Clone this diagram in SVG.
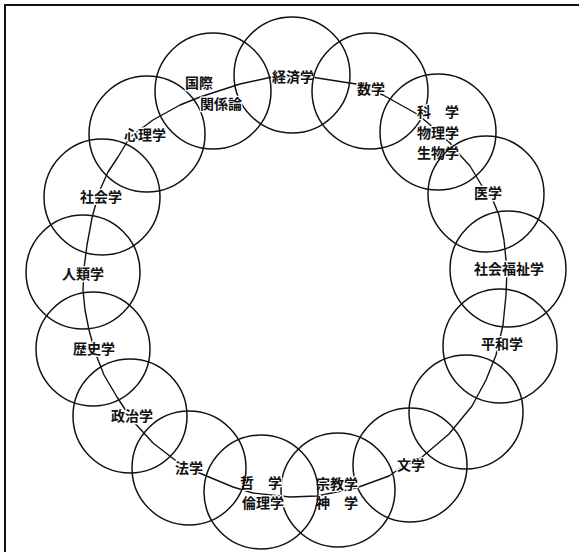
<svg xmlns="http://www.w3.org/2000/svg" width="579" height="552" viewBox="0 0 579 552">
<style>
.c{fill:none;stroke:#111;stroke-width:1.5}
.t{font-family:"Noto Sans CJK JP","Noto Sans CJK SC",sans-serif;font-size:14px;font-weight:700;fill:#111;stroke:#fff;stroke-width:2.5;paint-order:stroke;stroke-linejoin:round}
.ln{fill:none;stroke:#111;stroke-width:1.4;stroke-linejoin:round}
</style>
<rect width="579" height="552" fill="#fff"/>
<path d="M5 579V5H579" fill="none" stroke="#111" stroke-width="2"/>
<g id="connectors">
<path class="ln" d="M272,77 L311,77 L356,84 L383,95 L417,114 L428,123 L450,143 L460,155 L470,166 L482,186 L492,198 L499,215 L504,240 L507,270 L506,295 L503,325 L496,355 L486,380 L472,406 L449,434 L422,457 L399,469 L389,476 L356,488 L317,496 L290,497 L253,493 L233,487 L197,472 L175,460 L153,443 L132,420 L117,397 L104,375 L95,352 L89,330 L85,310 L83,290 L84,268 L87,245 L92,218 L99,192 L108,172 L118,157 L130,137 L153,120 L180,105 L200,97 L240,84 Z"/>
</g>
<g id="n-keizai"><circle class="c" cx="292" cy="75" r="58"/><text class="t" x="272" y="82">経済学</text></g>
<g id="n-suugaku"><circle class="c" cx="370" cy="91" r="58"/><text class="t" x="357" y="94">数学</text></g>
<g id="n-kagaku"><circle class="c" cx="438" cy="132" r="58"/><text class="t" x="417" y="117">科　学</text><text class="t" x="417" y="138">物理学</text><text class="t" x="417" y="158">生物学</text></g>
<g id="n-igaku"><circle class="c" cx="486" cy="194" r="58"/><text class="t" x="474" y="198">医学</text></g>
<g id="n-fukushi"><circle class="c" cx="508" cy="269" r="58"/><text class="t" x="474" y="274">社会福祉学</text></g>
<g id="n-heiwa"><circle class="c" cx="500" cy="346" r="57"/><text class="t" x="481" y="349">平和学</text></g>
<g id="n-blank"><circle class="c" cx="466" cy="412" r="57"/></g>
<g id="n-bungaku"><circle class="c" cx="410" cy="465" r="57"/><text class="t" x="397" y="470">文学</text></g>
<g id="n-shuukyou"><circle class="c" cx="338" cy="490" r="57"/><text class="t" x="316" y="489">宗教学</text><text class="t" x="316" y="508">神　学</text></g>
<g id="n-tetsugaku"><circle class="c" cx="261" cy="492" r="57"/><text class="t" x="240" y="488">哲　学</text><text class="t" x="242" y="508">倫理学</text></g>
<g id="n-hougaku"><circle class="c" cx="189" cy="468" r="57"/><text class="t" x="175" y="473">法学</text></g>
<g id="n-seiji"><circle class="c" cx="130" cy="416" r="57"/><text class="t" x="111" y="421">政治学</text></g>
<g id="n-rekishi"><circle class="c" cx="93" cy="349" r="57"/><text class="t" x="73" y="354">歴史学</text></g>
<g id="n-jinrui"><circle class="c" cx="83" cy="272" r="57"/><text class="t" x="62" y="279">人類学</text></g>
<g id="n-shakai"><circle class="c" cx="102" cy="197" r="58"/><text class="t" x="80" y="202">社会学</text></g>
<g id="n-shinri"><circle class="c" cx="147" cy="134" r="58"/><text class="t" x="124" y="140">心理学</text></g>
<g id="n-kokusai"><circle class="c" cx="213" cy="91" r="58"/><text class="t" x="185" y="88">国際</text><text class="t" x="200" y="109">関係論</text></g>
</svg>
